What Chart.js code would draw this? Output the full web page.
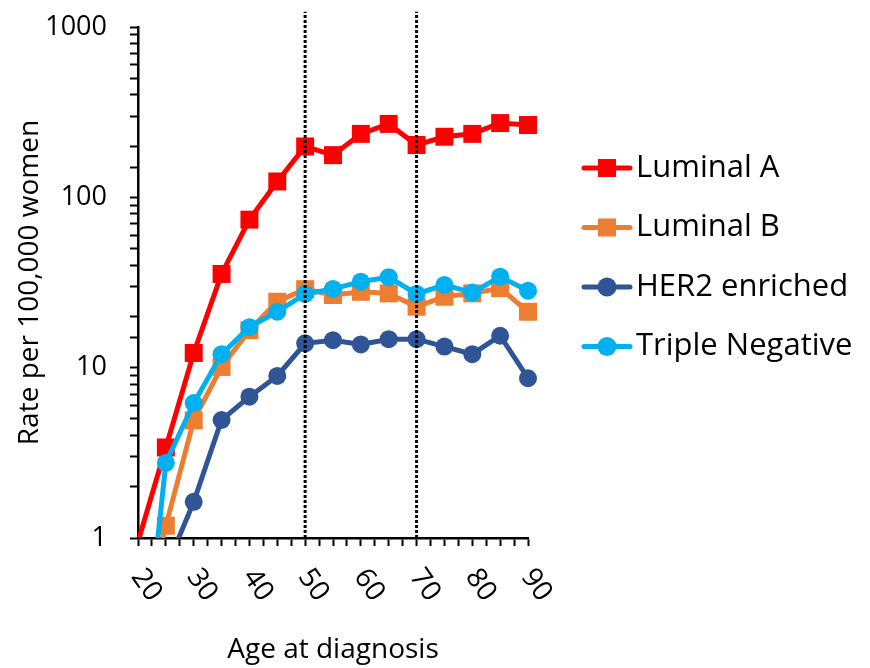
<!DOCTYPE html>
<html>
<head>
<meta charset="utf-8">
<title>Incidence rate by subtype and age</title>
<script src="https://cdn.jsdelivr.net/npm/chart.js@4.4.1/dist/chart.umd.min.js"></script>
<style>
  html, body { margin: 0; padding: 0; background: #fff; }
  #wrap { width: 870px; height: 668px; }
</style>
</head>
<body>
<div id="wrap"><canvas id="rateChart" width="870" height="668"></canvas></div>
<script>
// Data (rate per 100,000 women, by age at diagnosis)
const ages = [20, 25, 30, 35, 40, 45, 50, 55, 60, 65, 70, 75, 80, 85, 90];
const luminalA = [0.95, 3.4, 12.2, 35.5, 74, 124, 199, 177, 236, 270, 203, 227, 236, 273, 266];
const luminalB = [0.25, 1.18, 4.9, 10.1, 16.6, 24.4, 28.9, 26.7, 27.9, 27.3, 22.8, 26.1, 27.3, 29.3, 21.3];
const her2Enriched = [0.3, 0.66, 1.63, 4.93, 6.76, 8.94, 13.9, 14.5, 13.7, 14.7, 14.7, 13.3, 12.0, 15.4, 8.67];
const tripleNegative = [0.08, 2.76, 6.2, 12.0, 17.3, 21.3, 27.1, 29.0, 32.0, 34.0, 27.1, 30.6, 27.6, 34.2, 28.3];

const seriesNames = ['Luminal A', 'Luminal B', 'HER2 enriched', 'Triple Negative'];
const ageTickLabels = [20, 30, 40, 50, 60, 70, 80, 90];
const rateTickLabels = [1, 10, 100, 1000];

// dotted reference lines at age 50 and 70
const cutoffAges = [50, 70];
const cutoffRange = [1, 1230];

const FONT = "'Open Sans', 'DejaVu Sans', sans-serif";

function toPoints(values) {
  return ages.map((age, i) => ({ x: age, y: values[i] }));
}

function seriesDataset(label, values, color, style, order) {
  return {
    label: label,
    data: toPoints(values),
    borderColor: color,
    backgroundColor: color,
    borderWidth: 5,
    pointStyle: style,
    // markers below the axis minimum are not shown
    pointRadius: (ctx) => (ctx.raw && ctx.raw.y < 1 ? 0 : (style === 'rect' ? 12.7 : 9)),
    pointBorderWidth: 0,
    pointBackgroundColor: color,
    tension: 0,
    order: order,
    clip: { left: 0, top: 20, right: 12, bottom: 0 },
    inLegend: true
  };
}

const datasets = [
  seriesDataset(seriesNames[0], luminalA, '#ff0000', 'rect', 4),
  seriesDataset(seriesNames[1], luminalB, '#ed7d31', 'rect', 3),
  seriesDataset(seriesNames[2], her2Enriched, '#2f5597', 'circle', 2),
  seriesDataset(seriesNames[3], tripleNegative, '#00b0f0', 'circle', 1)
];

cutoffAges.forEach(age => {
  datasets.push({
    label: 'cutoff ' + age,
    data: cutoffRange.map(v => ({ x: age, y: v })),
    borderColor: '#000',
    borderWidth: 3,
    borderDash: [3, 2],
    pointRadius: 0,
    order: 0,
    clip: { left: 0, top: 20, right: 12, bottom: 0 },
    inLegend: false
  });
});

// rotated (clockwise) age labels under the x axis
const ageLabelPlugin = {
  id: 'ageLabels',
  afterDraw(chart) {
    const ctx = chart.ctx;
    const xScale = chart.scales.x;
    ctx.save();
    ctx.fillStyle = '#000';
    ctx.font = '28px ' + FONT;
    ctx.textAlign = 'left';
    ctx.textBaseline = 'middle';
    ageTickLabels.forEach(v => {
      const px = xScale.getPixelForValue(v);
      ctx.save();
      ctx.translate(px - 1, 572);
      ctx.rotate(55 * Math.PI / 180);
      ctx.fillText(String(v), 0, 0);
      ctx.restore();
    });
    ctx.restore();
  }
};

// legend with line + marker samples on the right
const sideLegendPlugin = {
  id: 'sideLegend',
  afterDraw(chart) {
    const ctx = chart.ctx;
    const items = chart.data.datasets.filter(d => d.inLegend);
    ctx.save();
    items.forEach((ds, i) => {
      const y = 168 + i * 59.5;
      ctx.strokeStyle = ds.borderColor;
      ctx.lineWidth = 5;
      ctx.lineCap = 'round';
      ctx.beginPath();
      ctx.moveTo(584, y);
      ctx.lineTo(630, y);
      ctx.stroke();
      ctx.fillStyle = ds.borderColor;
      if (ds.pointStyle === 'rect') {
        ctx.fillRect(607 - 9, y - 9, 18, 18);
      } else {
        ctx.beginPath();
        ctx.arc(607, y, 9.5, 0, Math.PI * 2);
        ctx.fill();
      }
      ctx.fillStyle = '#000';
      ctx.font = '31px ' + FONT;
      ctx.textAlign = 'left';
      ctx.textBaseline = 'middle';
      ctx.fillText(ds.label, 636, y);
    });
    ctx.restore();
  }
};

new Chart(document.getElementById('rateChart'), {
  type: 'line',
  data: { datasets: datasets },
  plugins: [ageLabelPlugin, sideLegendPlugin],
  options: {
    responsive: false,
    animation: false,
    layout: { padding: { top: 27, right: 342, left: 0, bottom: 0 } },
    plugins: {
      legend: { display: false },
      tooltip: { enabled: false }
    },
    scales: {
      x: {
        type: 'linear',
        min: 20,
        max: 90,
        afterFit: (scale) => { scale.height = 130; },
        grid: {
          display: true,
          drawOnChartArea: false,
          drawTicks: true,
          tickLength: 8,
          color: '#000',
          tickColor: '#000',
          tickWidth: 2
        },
        border: { display: true, color: '#000', width: 2.5 },
        ticks: {
          stepSize: 2.5,
          autoSkip: false,
          callback: () => ''
        },
        title: {
          display: true,
          text: 'Age at diagnosis',
          color: '#000',
          font: { family: FONT, size: 28 },
          padding: { top: 0, bottom: 1 }
        }
      },
      y: {
        type: 'logarithmic',
        min: 1,
        max: 1000,
        afterFit: (scale) => { scale.width = 138; },
        grid: {
          display: true,
          drawOnChartArea: false,
          drawTicks: true,
          tickLength: 8,
          color: '#000',
          tickColor: '#000',
          tickWidth: 2
        },
        border: { display: true, color: '#000', width: 2.5 },
        ticks: {
          autoSkip: false,
          padding: 23,
          color: '#000',
          // small lineHeight keeps the label overflow from pushing the plot area down
          font: { family: FONT, size: 27, lineHeight: 0.3 },
          callback: (value) => (rateTickLabels.includes(value) ? String(value) : '')
        },
        title: {
          display: true,
          text: 'Rate per 100,000 women',
          color: '#000',
          font: { family: FONT, size: 28 },
          padding: { top: 13, bottom: 0 }
        }
      }
    }
  }
});
</script>
</body>
</html>
